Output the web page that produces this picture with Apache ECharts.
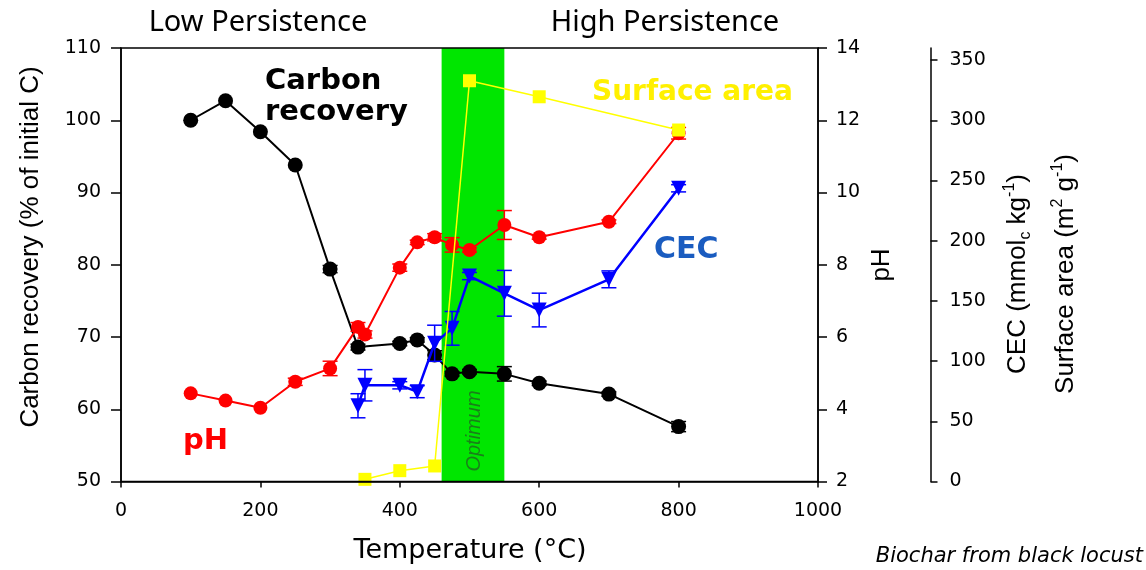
<!DOCTYPE html>
<html>
<head>
<meta charset="utf-8">
<script src="https://cdn.jsdelivr.net/npm/echarts@6/dist/echarts.min.js"></script>
<style>
  html, body { margin: 0; padding: 0; background: #fff; }
  #chart { width: 1146px; height: 570px; }
</style>
</head>
<body>
<div id="chart"></div>
<script>
// temperature (°C) for each measured biochar
const carbonTemp = [100, 150, 200, 250, 300, 340, 400, 425, 450, 475, 500, 550, 600, 700, 800];
const carbonRecovery = [100.0, 102.7, 98.4, 93.8, 79.4, 68.6, 69.1, 69.6, 67.5, 64.9, 65.2, 64.9, 63.6, 62.1, 57.6];
const carbonErr = [0, 0, 0, 0, 0.5, 0.4, 0.3, 0.3, 0.6, 0.3, 0.3, 1.0, 0.3, 0.3, 0.7];

const phTemp = [100, 150, 200, 250, 300, 340, 350, 400, 425, 450, 475, 500, 550, 600, 700, 800];
const phValues = [4.44, 4.24, 4.04, 4.76, 5.13, 6.28, 6.07, 7.92, 8.62, 8.76, 8.55, 8.41, 9.10, 8.76, 9.19, 11.64];
const phErr = [0, 0, 0, 0.1, 0.2, 0.12, 0.1, 0.1, 0.06, 0.1, 0.2, 0.06, 0.4, 0.05, 0.05, 0.16];

const cecTemp = [340, 350, 400, 425, 450, 475, 500, 550, 600, 700, 800];
const cecValues = [62.9, 79.9, 79.9, 74.6, 114.8, 127.2, 170.6, 156.3, 142.4, 167.9, 243.5];
const cecErr = [10, 13, 3, 5, 15, 14, 3, 19, 14, 7, 3];

const saTemp = [350, 400, 450, 500, 600, 800];
const saValues = [1.8, 9.0, 12.9, 332.8, 319.5, 291.9];

// optimum pyrolysis window (°C)
const optimumRange = [460, 550];

// axis ticks
const tempTicks = [0, 200, 400, 600, 800, 1000];
const carbonTicks = [50, 60, 70, 80, 90, 100, 110];
const phTicks = [2, 4, 6, 8, 10, 12, 14];
const cecTicks = [0, 50, 100, 150, 200, 250, 300, 350];
const cecAxisMax = 360;

const tickFont = { fontFamily: 'DejaVu Sans', fontSize: 19, color: '#000', formatter: (v) => String(v) };
const axisLine = { show: true, lineStyle: { color: '#000', width: 1.5 } };

const pairs = (xs, ys) => xs.map((x, i) => [x, ys[i]]);

// error bars with caps
const errorBars = (xs, ys, errs, yAxisIndex, color, z) => ({
  type: 'custom',
  yAxisIndex,
  z,
  silent: true,
  encode: { x: 0, y: [1, 2] },
  data: xs.map((x, i) => [x, ys[i] - errs[i], ys[i] + errs[i]]),
  renderItem: (params, api) => {
    const lo = api.coord([api.value(0), api.value(1)]);
    const hi = api.coord([api.value(0), api.value(2)]);
    if (Math.abs(lo[1] - hi[1]) < 2) return null;
    const w = 7.5;
    const style = { stroke: color, lineWidth: 1.5 };
    return {
      type: 'group',
      children: [
        { type: 'line', shape: { x1: lo[0], y1: lo[1], x2: hi[0], y2: hi[1] }, style },
        { type: 'line', shape: { x1: lo[0] - w, y1: lo[1], x2: lo[0] + w, y2: lo[1] }, style },
        { type: 'line', shape: { x1: hi[0] - w, y1: hi[1], x2: hi[0] + w, y2: hi[1] }, style }
      ]
    };
  }
});

const chart = echarts.init(document.getElementById('chart'));

const option = {
  animation: false,
  grid: {
    left: 121, right: 328, top: 48, height: 433.5,
    show: true, borderColor: '#000', borderWidth: 1.5, z: 10
  },
  xAxis: {
    type: 'value',
    min: tempTicks[0], max: tempTicks[tempTicks.length - 1], interval: 200,
    z: 10,
    splitLine: { show: false },
    axisLine,
    axisTick: { show: true, length: 6, lineStyle: { color: '#000', width: 1.5 } },
    axisLabel: { ...tickFont, margin: 20 }
  },
  yAxis: [
    {
      type: 'value', position: 'left',
      min: carbonTicks[0], max: carbonTicks[carbonTicks.length - 1], interval: 10,
      z: 10,
      splitLine: { show: false },
      axisLine,
      axisTick: { show: true, length: 10, lineStyle: { color: '#000', width: 1.5 } },
      axisLabel: { ...tickFont, margin: 20 }
    },
    {
      type: 'value', position: 'right',
      min: phTicks[0], max: phTicks[phTicks.length - 1], interval: 2,
      z: 10,
      splitLine: { show: false },
      axisLine,
      axisTick: { show: true, length: 9, lineStyle: { color: '#000', width: 1.5 } },
      axisLabel: { ...tickFont, margin: 18 }
    },
    {
      type: 'value', position: 'right', offset: 112.5,
      min: cecTicks[0], max: cecAxisMax,
      z: 10,
      splitLine: { show: false },
      axisLine,
      axisTick: { show: true, length: 7, customValues: cecTicks, lineStyle: { color: '#000', width: 1.5 } },
      axisLabel: { ...tickFont, margin: 19, customValues: cecTicks }
    }
  ],
  series: [
    {
      // green optimum band
      type: 'custom',
      z: 1,
      silent: true,
      data: [optimumRange],
      renderItem: (params, api) => {
        const a = api.coord([api.value(0), carbonTicks[0]]);
        const b = api.coord([api.value(1), carbonTicks[0]]);
        const cs = params.coordSys;
        return {
          type: 'rect',
          shape: { x: a[0], y: cs.y, width: b[0] - a[0], height: cs.height },
          style: { fill: '#00e600' }
        };
      }
    },
    errorBars(carbonTemp, carbonRecovery, carbonErr, 0, '#000', 3),
    {
      name: 'Carbon recovery', type: 'line', yAxisIndex: 0, z: 3,
      data: pairs(carbonTemp, carbonRecovery),
      symbol: 'circle', symbolSize: 15,
      lineStyle: { color: '#000', width: 2 },
      itemStyle: { color: '#000', borderWidth: 0 }
    },
    errorBars(phTemp, phValues, phErr, 1, '#ff0000', 4),
    {
      name: 'pH', type: 'line', yAxisIndex: 1, z: 4,
      data: pairs(phTemp, phValues),
      symbol: 'circle', symbolSize: 14,
      lineStyle: { color: '#ff0000', width: 2 },
      itemStyle: { color: '#ff0000', borderWidth: 0 }
    },
    errorBars(cecTemp, cecValues, cecErr, 2, '#0000ff', 5),
    {
      name: 'CEC', type: 'line', yAxisIndex: 2, z: 5,
      data: pairs(cecTemp, cecValues),
      symbol: 'triangle', symbolRotate: 180, symbolSize: 15,
      lineStyle: { color: '#0000ff', width: 2.5 },
      itemStyle: { color: '#0000ff', borderWidth: 0 }
    },
    {
      name: 'Surface area', type: 'line', yAxisIndex: 2, z: 6,
      data: pairs(saTemp, saValues),
      symbol: 'rect', symbolSize: 13,
      lineStyle: { color: '#ffff00', width: 1.5 },
      itemStyle: { color: '#ffff00', borderWidth: 0 }
    }
  ],
  graphic: [
    { type: 'text', x: 258, y: 23, style: { text: 'Low Persistence', font: '29px "Noto Sans"', fill: '#000', align: 'center', verticalAlign: 'middle' } },
    { type: 'text', x: 665, y: 23, style: { text: 'High Persistence', font: '29px "Noto Sans"', fill: '#000', align: 'center', verticalAlign: 'middle' } },
    { type: 'text', x: 470, y: 551, style: { text: 'Temperature (°C)', font: '27px "DejaVu Sans"', fill: '#000', align: 'center', verticalAlign: 'middle' } },
    { type: 'text', x: 1143, y: 557, style: { text: 'Biochar from black locust', font: 'italic 21px "DejaVu Sans"', fill: '#000', align: 'right', verticalAlign: 'middle' } },
    { type: 'text', x: 31, y: 247, rotation: Math.PI / 2, style: { text: 'Carbon recovery (% of initial C)', font: '26px "Liberation Sans"', fill: '#000', align: 'center', verticalAlign: 'middle' } },
    { type: 'text', x: 882, y: 265, rotation: Math.PI / 2, style: { text: 'pH', font: '26px "Liberation Sans"', fill: '#000', align: 'center', verticalAlign: 'middle' } },
    {
      type: 'text', x: 1018, y: 274, rotation: Math.PI / 2, z: 20,
      style: {
        text: '{a|CEC (mmol}{sub|c}{a| kg}{sup|-1}{a|)}',
        align: 'center', verticalAlign: 'middle',
        rich: {
          a: { fontFamily: 'Liberation Sans', fontSize: 26, lineHeight: 32, fill: '#000' },
          sup: { fontFamily: 'Liberation Sans', fontSize: 16, lineHeight: 32, verticalAlign: 'top', fill: '#000' },
          sub: { fontFamily: 'Liberation Sans', fontSize: 16, lineHeight: 32, verticalAlign: 'bottom', fill: '#000' }
        }
      }
    },
    {
      type: 'text', x: 1066, y: 274, rotation: Math.PI / 2, z: 20,
      style: {
        text: '{a|Surface area (m}{sup|2}{a| g}{sup|-1}{a|)}',
        align: 'center', verticalAlign: 'middle',
        rich: {
          a: { fontFamily: 'Liberation Sans', fontSize: 26, lineHeight: 32, fill: '#000' },
          sup: { fontFamily: 'Liberation Sans', fontSize: 16, lineHeight: 32, verticalAlign: 'top', fill: '#000' }
        }
      }
    },
    { type: 'text', x: 265, y: 81, z: 20, style: { text: 'Carbon', font: 'bold 29px "DejaVu Sans"', fill: '#000', align: 'left', verticalAlign: 'middle' } },
    { type: 'text', x: 265, y: 112, z: 20, style: { text: 'recovery', font: 'bold 29px "DejaVu Sans"', fill: '#000', align: 'left', verticalAlign: 'middle' } },
    { type: 'text', x: 592, y: 93, z: 20, style: { text: 'Surface area', font: 'bold 28px "DejaVu Sans"', fill: '#fff000', align: 'left', verticalAlign: 'middle' } },
    { type: 'text', x: 654, y: 250, z: 20, style: { text: 'CEC', font: 'bold 30px "DejaVu Sans"', fill: '#1a5cc0', align: 'left', verticalAlign: 'middle' } },
    { type: 'text', x: 183, y: 441, z: 20, style: { text: 'pH', font: 'bold 29px "DejaVu Sans"', fill: '#ff0000', align: 'left', verticalAlign: 'middle' } },
    { type: 'text', x: 474, y: 431, rotation: Math.PI / 2, z: 20, style: { text: 'Optimum', font: 'italic 20px "Liberation Sans"', fill: '#1a7f1a', align: 'center', verticalAlign: 'middle' } }
  ]
};

chart.setOption(option);
</script>
</body>
</html>
